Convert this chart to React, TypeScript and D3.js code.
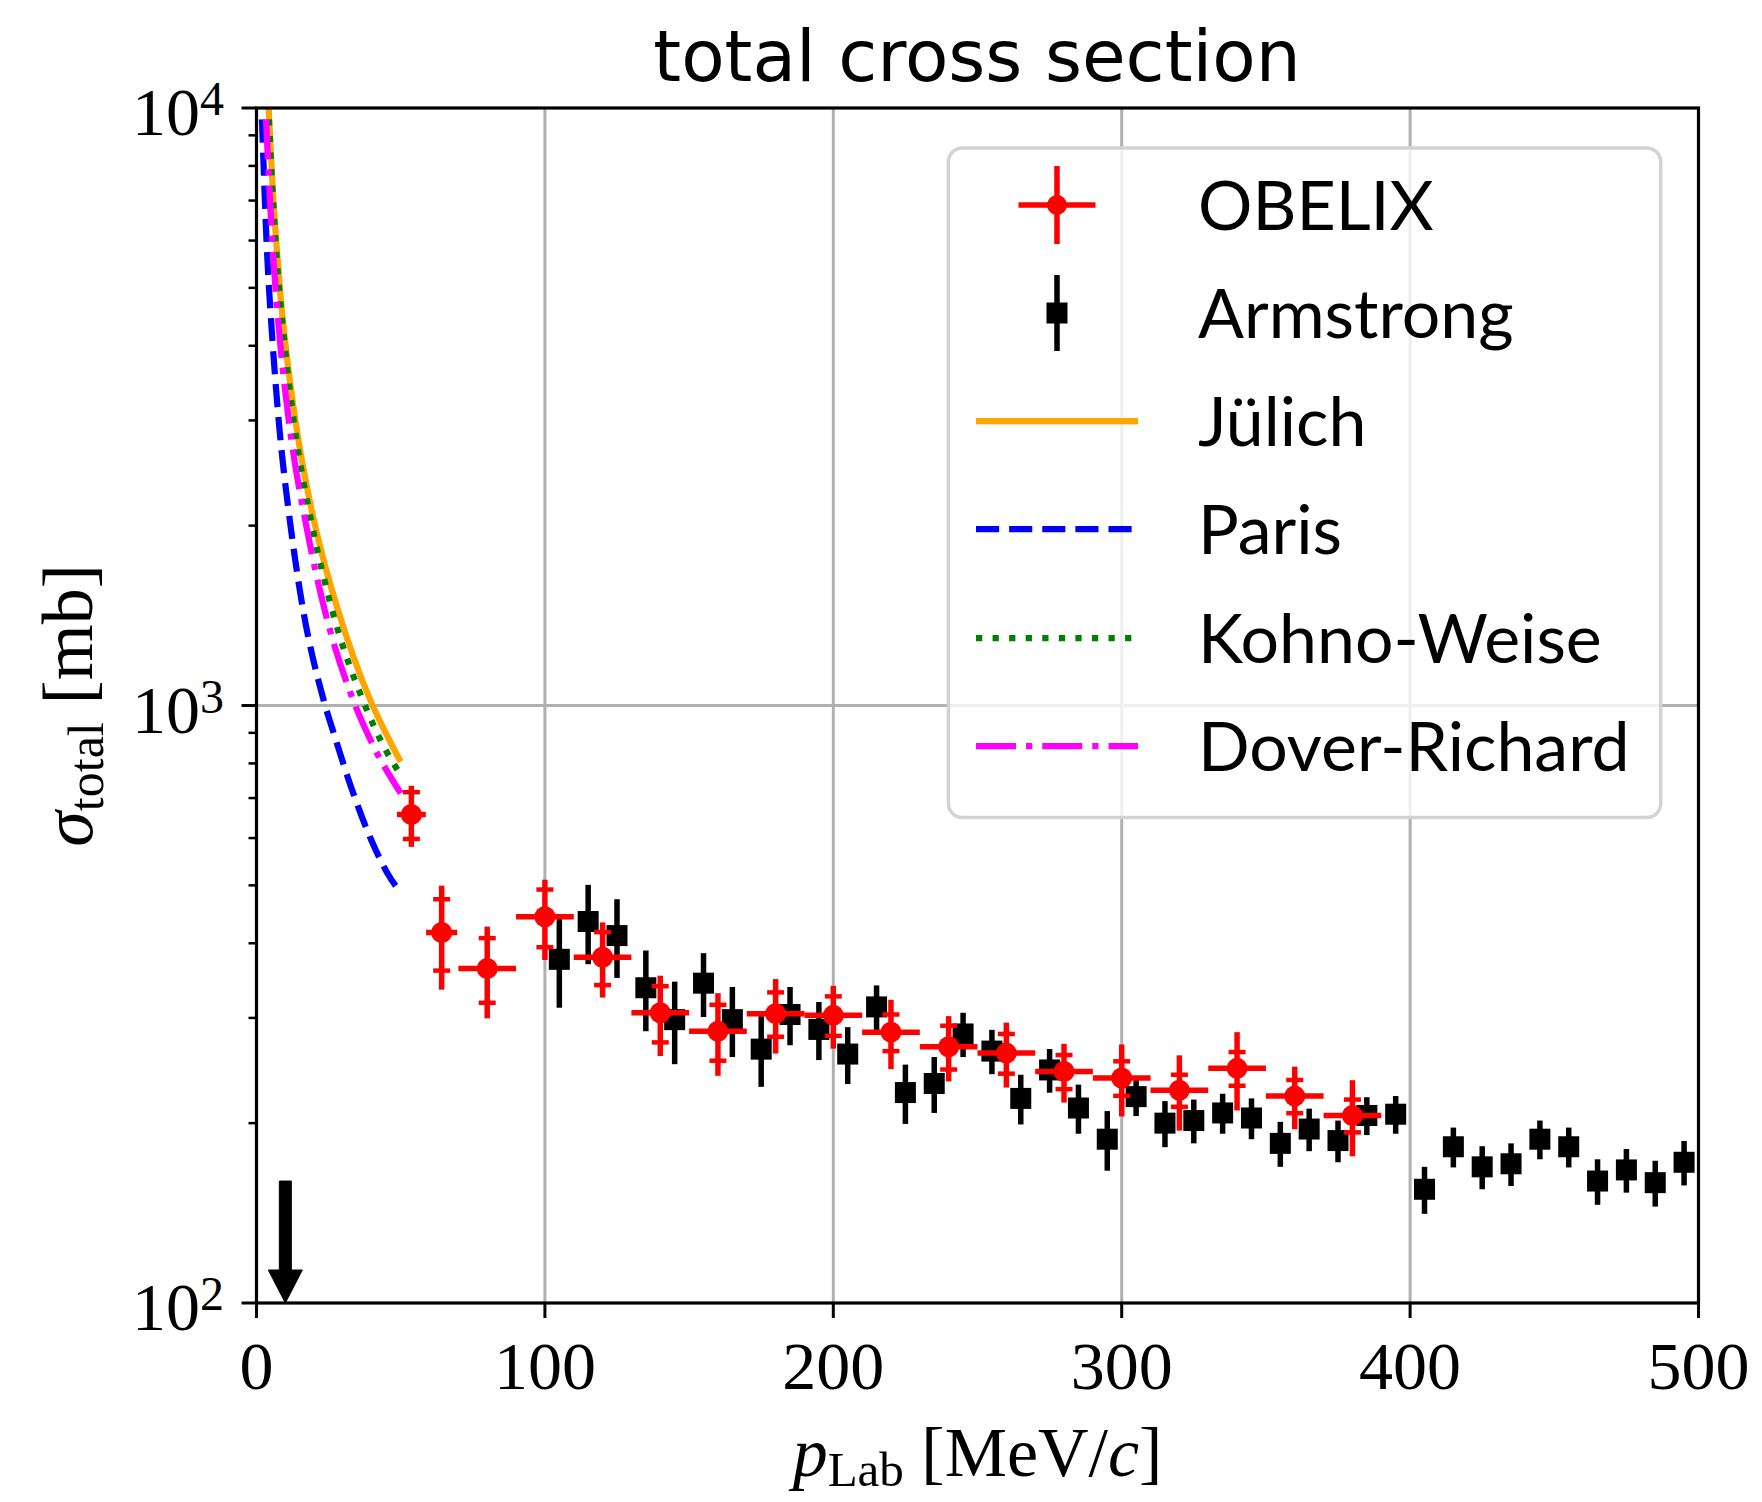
import React from "react";
import * as d3 from "d3";

const W = 1762;
const H = 1502;
const M = { left: 256.5, right: 1698.5, top: 108, bottom: 1303 };

const xTickValues = [0, 100, 200, 300, 400, 500];
const yTickExponents = [2, 3, 4];

// OBELIX data: momentum, half bin width, cross section, total error (no caps), stat error (caps)
const obelixP = [53.7, 64.2, 80, 100, 120, 140, 160, 180, 200, 220, 240, 260, 280, 300, 320, 340, 360, 380];
const obelixXerr = [5, 5.4, 10, 10, 10, 10, 10, 10, 10, 10, 10, 10, 10, 10, 10, 10, 10, 10];
const obelixS = [657, 417, 363, 443, 379, 306, 285, 305, 303, 284, 268.5, 262, 244, 238, 227, 247, 222, 206];
const obelixErrTot = [77, 82.5, 63.5, 68, 54.5, 47, 45, 43.5, 36.5, 37.7, 33.6, 32.6, 27.5, 32.8, 32.7, 37, 26.6, 30];
const obelixErrStat = [59, 57, 45, 49, 38.5, 33, 30.6, 26, 23, 20, 22.6, 20, 16, 15.8, 14, 16, 14.2, 13];

// Armstrong data
const armP = [105, 115, 125, 135, 145, 155, 165, 175, 185, 195, 205, 215, 225, 235, 245, 255, 265, 275, 285, 295,
  305, 315, 325, 335, 345, 355, 365, 375, 385, 395, 405, 415, 425, 435, 445, 455, 465, 475, 485, 495];
const armS = [376, 435, 412, 337, 298, 343, 298, 266, 304, 287, 261, 313, 225, 233, 282, 264, 220, 245.5, 212, 188,
  221.5, 200, 202, 208, 204, 185, 195.5, 187, 206, 207, 155, 182.6, 169, 171, 188, 182.6, 160, 167, 159, 172];
const armErr = [64, 66, 62, 52, 47, 42, 40, 36, 34, 32, 28.5, 27, 25.6, 25, 24, 22.5, 21, 20.6, 20, 21.5,
  16, 17.7, 17, 16, 16, 16, 16, 15, 15, 15, 14, 14, 14, 14, 14, 14, 14, 14, 14, 14.7];

// Theory curves (momentum, cross section)
const julichP = [3.8, 4.2, 5.44, 6.93, 8.32, 10.64, 13.86, 18.12, 24.26, 27.96, 39.5, 45.3, 50];
const julichS = [10900, 10000, 7600, 5900, 4850, 3800, 2920, 2240, 1680, 1460, 1020, 890, 805];
const parisP = [1.9, 3.46, 5.66, 7.7, 11.8, 15.2, 23.3, 26.8, 32.6, 39.5, 45.3, 50];
const parisS = [9570, 6020, 4000, 3000, 2000, 1540, 1020, 898, 735, 600, 525, 486];
const kohnoP = [4.3, 6.58, 9.8, 12.9, 19.3, 24.7, 38.0, 43.0, 50];
const kohnoS = [9570, 6020, 4000, 3000, 2000, 1540, 990, 875, 765];
const doverP = [3.3, 5.43, 8.3, 11.2, 17.6, 22.8, 33.2, 40.3, 50];
const doverS = [9570, 6020, 4000, 3000, 1960, 1500, 1030, 860, 713];

const arrowP = 10;
const arrowTopS = 160;

const LW = 6.25;
const curves = [
  { name: "Jülich", p: julichP, s: julichS, color: "#ffa500", dash: "" },
  { name: "Paris", p: parisP, s: parisS, color: "#0000ff", dash: `${3.7 * LW},${1.6 * LW}` },
  { name: "Kohno-Weise", p: kohnoP, s: kohnoS, color: "#008000", dash: `${1 * LW},${1.65 * LW}` },
  { name: "Dover-Richard", p: doverP, s: doverS, color: "#ff00ff", dash: `${6.4 * LW},${1.6 * LW},${1 * LW},${1.6 * LW}` },
];

const SERIF = "'Liberation Serif', 'DejaVu Serif', serif";
const SANS = "Lato, 'DejaVu Sans', sans-serif";

export default function App() {
  const x = d3.scaleLinear().domain([0, 500]).range([M.left, M.right]);
  const y = d3.scaleLog().domain([100, 10000]).range([M.bottom, M.top]);

  const line = d3
    .line<[number, number]>()
    .x((d) => x(d[0]))
    .y((d) => y(d[1]))
    .curve(d3.curveMonotoneX);

  const minorTicks: number[] = [];
  [2, 3].forEach((e) => {
    for (let k = 2; k <= 9; k++) minorTicks.push(k * Math.pow(10, e));
  });

  const ew = 5.5; // errorbar linewidth
  const capHalf = 8.5;
  const capT = 4.5;
  const sq = 21;

  // legend
  const lg = { x0: 948.4, y0: 148, x1: 1660.7, y1: 817.5 };
  const lgRowY = [205, 313, 421, 529, 638, 746];
  const lgHandleX0 = 976;
  const lgHandleX1 = 1138;
  const lgHandleC = 1057;
  const lgTextX = 1198;

  const ax = x(arrowP);
  const ayTop = y(arrowTopS);
  const ayTip = y(100);
  const headLen = 33;
  const headHalf = 17;
  const shaftHalf = 6;

  return (
    <div style={{ position: "absolute", left: 0, top: 0 }}>
      <svg width={W} height={H} viewBox={`0 0 ${W} ${H}`} style={{ display: "block", background: "#fff" }}>
        <defs>
          <clipPath id="plotclip">
            <rect x={M.left} y={M.top} width={M.right - M.left} height={M.bottom - M.top} />
          </clipPath>
        </defs>
        <rect x={0} y={0} width={W} height={H} fill="#fff" />

        {/* grid */}
        <g stroke="#b0b0b0" strokeWidth={3}>
          {xTickValues.slice(1, -1).map((v) => (
            <line key={v} x1={x(v)} x2={x(v)} y1={M.top} y2={M.bottom} />
          ))}
          <line x1={M.left} x2={M.right} y1={y(1000)} y2={y(1000)} />
        </g>

        {/* theory curves */}
        <g clipPath="url(#plotclip)" fill="none">
          {curves.map((c) => (
            <path
              key={c.name}
              d={line(c.p.map((p, i) => [p, c.s[i]] as [number, number])) || ""}
              stroke={c.color}
              strokeWidth={LW}
              strokeDasharray={c.dash || undefined}
              strokeLinecap="butt"
            />
          ))}
        </g>

        {/* Armstrong */}
        <g fill="#000" stroke="#000">
          {armP.map((p, i) => (
            <g key={p}>
              <line x1={x(p)} x2={x(p)} y1={y(armS[i] + armErr[i])} y2={y(armS[i] - armErr[i])} strokeWidth={ew} />
              <rect x={x(p) - sq / 2} y={y(armS[i]) - sq / 2} width={sq} height={sq} stroke="none" />
            </g>
          ))}
        </g>

        {/* OBELIX */}
        <g stroke="#ff0000" fill="#ff0000">
          {obelixP.map((p, i) => {
            const cx = x(p);
            const cy = y(obelixS[i]);
            const yu = y(obelixS[i] + obelixErrStat[i]);
            const yl = y(obelixS[i] - obelixErrStat[i]);
            return (
              <g key={p}>
                <line x1={x(p - obelixXerr[i])} x2={x(p + obelixXerr[i])} y1={cy} y2={cy} strokeWidth={ew} />
                <line
                  x1={cx}
                  x2={cx}
                  y1={y(obelixS[i] + obelixErrTot[i])}
                  y2={y(obelixS[i] - obelixErrTot[i])}
                  strokeWidth={ew}
                />
                <line x1={cx - capHalf} x2={cx + capHalf} y1={yu} y2={yu} strokeWidth={capT} />
                <line x1={cx - capHalf} x2={cx + capHalf} y1={yl} y2={yl} strokeWidth={capT} />
                <circle cx={cx} cy={cy} r={10.5} stroke="none" />
              </g>
            );
          })}
        </g>

        {/* arrow */}
        <path
          d={`M${ax - shaftHalf},${ayTop} L${ax + shaftHalf},${ayTop} L${ax + shaftHalf},${ayTip - headLen} L${ax + headHalf},${ayTip - headLen} L${ax},${ayTip} L${ax - headHalf},${ayTip - headLen} L${ax - shaftHalf},${ayTip - headLen} Z`}
          fill="#000"
          stroke="#000"
          strokeWidth={1}
          strokeLinejoin="round"
        />

        {/* ticks */}
        <g stroke="#000" strokeWidth={3}>
          {xTickValues.map((v) => (
            <line key={v} x1={x(v)} x2={x(v)} y1={M.bottom} y2={M.bottom + 15} />
          ))}
          {yTickExponents.map((e) => (
            <line key={e} x1={M.left - 15} x2={M.left} y1={y(Math.pow(10, e))} y2={y(Math.pow(10, e))} />
          ))}
          {minorTicks.map((v) => (
            <line key={v} x1={M.left - 8} x2={M.left} y1={y(v)} y2={y(v)} strokeWidth={2.5} />
          ))}
        </g>

        {/* spines */}
        <rect
          x={M.left}
          y={M.top}
          width={M.right - M.left}
          height={M.bottom - M.top}
          fill="none"
          stroke="#000"
          strokeWidth={3.2}
        />

        {/* tick labels */}
        <g fontFamily={SERIF} fill="#000">
          {xTickValues.map((v) => (
            <text key={v} x={x(v)} y={1389} fontSize={68} textAnchor="middle">
              {v}
            </text>
          ))}
          {yTickExponents.map((e) => (
            <text key={e} x={224} y={y(Math.pow(10, e)) + 27} fontSize={68} textAnchor="end">
              10
              <tspan fontSize={48} dy={-20}>
                {e}
              </tspan>
            </text>
          ))}
        </g>

        {/* axis labels */}
        <text x={(M.left + M.right) / 2} y={1476} fontFamily={SERIF} fontSize={70} textAnchor="middle" fill="#000">
          <tspan fontStyle="italic">p</tspan>
          <tspan fontSize={49} dy={10}>
            Lab
          </tspan>
          <tspan dy={-10}> [MeV/</tspan>
          <tspan fontStyle="italic">c</tspan>
          <tspan>]</tspan>
        </text>
        <text
          transform={`translate(92,${(M.top + M.bottom) / 2}) rotate(-90)`}
          fontFamily={SERIF}
          fontSize={72}
          textAnchor="middle"
          fill="#000"
        >
          <tspan fontStyle="italic">σ</tspan>
          <tspan fontSize={50} dy={11}>
            total
          </tspan>
          <tspan dy={-11}> [mb]</tspan>
        </text>

        {/* title */}
        <text x={977} y={81} fontFamily="'DejaVu Sans', sans-serif" fontSize={71} textAnchor="middle" fill="#000">
          total cross section
        </text>

        {/* legend */}
        <g>
          <rect
            x={lg.x0}
            y={lg.y0}
            width={lg.x1 - lg.x0}
            height={lg.y1 - lg.y0}
            rx={14}
            ry={14}
            fill="#fff"
            fillOpacity={0.8}
            stroke="#d3d3d3"
            strokeWidth={3.5}
          />
          {/* OBELIX handle */}
          <g stroke="#ff0000" fill="#ff0000">
            <line x1={lgHandleC - 38.5} x2={lgHandleC + 38.5} y1={lgRowY[0]} y2={lgRowY[0]} strokeWidth={ew} />
            <line x1={lgHandleC} x2={lgHandleC} y1={lgRowY[0] - 39} y2={lgRowY[0] + 39} strokeWidth={ew} />
            <circle cx={lgHandleC} cy={lgRowY[0]} r={10} stroke="none" />
          </g>
          {/* Armstrong handle */}
          <g stroke="#000" fill="#000">
            <line x1={lgHandleC} x2={lgHandleC} y1={lgRowY[1] - 38} y2={lgRowY[1] + 38} strokeWidth={ew} />
            <rect x={lgHandleC - sq / 2} y={lgRowY[1] - sq / 2} width={sq} height={sq} stroke="none" />
          </g>
          {curves.map((c, i) => (
            <line
              key={c.name}
              x1={lgHandleX0}
              x2={lgHandleX1}
              y1={lgRowY[i + 2]}
              y2={lgRowY[i + 2]}
              stroke={c.color}
              strokeWidth={LW}
              strokeDasharray={c.dash || undefined}
            />
          ))}
          {["OBELIX", "Armstrong", ...curves.map((c) => c.name)].map((t, i) => (
            <text key={t} x={lgTextX} y={lgRowY[i] + 25} fontFamily={SANS} fontSize={68} fill="#000">
              {t}
            </text>
          ))}
        </g>
      </svg>
    </div>
  );
}
